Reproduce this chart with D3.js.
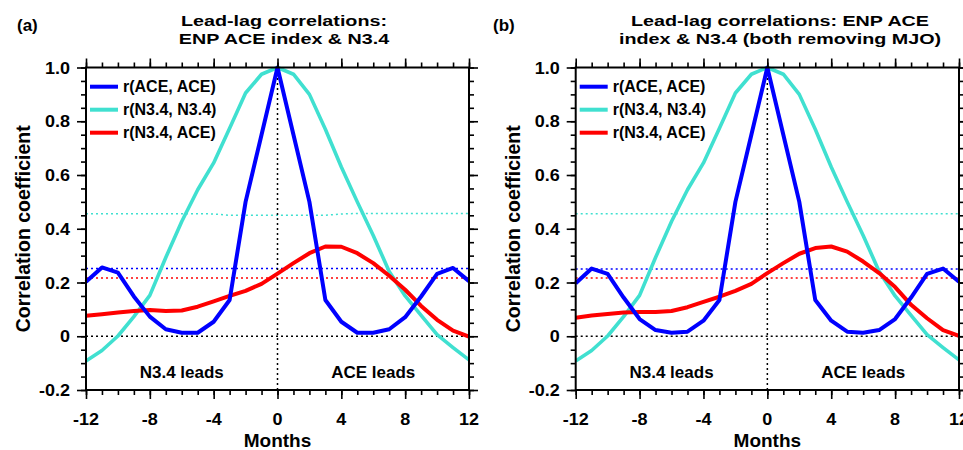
<!DOCTYPE html>
<html>
<head>
<meta charset="utf-8">
<script src="https://cdn.jsdelivr.net/npm/d3@7"></script>
<style>
  html, body { margin: 0; padding: 0; background: #fff; }
  svg { display: block; }
  text { font-family: "Liberation Sans", Arial, Helvetica, sans-serif; font-weight: bold; fill: #000; }
</style>
</head>
<body>
<svg id="chart" width="963" height="450"></svg>
<script>
// ---------------- DATA ----------------
const months = [-12,-11,-10,-9,-8,-7,-6,-5,-4,-3,-2,-1,0,1,2,3,4,5,6,7,8,9,10,11,12];
const xTickValues = [-12,-8,-4,0,4,8,12];
const xTickLabels = ["-12","-8","-4","0","4","8","12"];
const yTickValues = [-0.2,0,0.2,0.4,0.6,0.8,1.0];
const yTickLabels = ["-0.2","0","0.2","0.4","0.6","0.8","1.0"];
const legendLabels = ["r(ACE, ACE)","r(N3.4, N3.4)","r(N3.4, ACE)"];
const panelLabels = ["(a)","(b)"];
const titleA = ["Lead-lag correlations:","ENP ACE index & N3.4"];
const titleB = ["Lead-lag correlations: ENP ACE","index & N3.4 (both removing MJO)"];
const xAxisTitle = "Months";
const yAxisTitle = "Correlation coefficient";
const regionLabels = ["N3.4 leads","ACE leads"];
const regionMonths = [-6, 6];

// Panel (a)
const aceAceA = [0.203,0.256,0.237,0.148,0.073,0.026,0.013,0.013,0.054,0.135,0.50,0.75,1.0,0.75,0.50,0.135,0.054,0.013,0.013,0.026,0.071,0.148,0.232,0.254,0.205];
const n34n34A = [-0.092,-0.053,0.001,0.073,0.152,0.293,0.427,0.545,0.645,0.774,0.905,0.975,1.0,0.975,0.90,0.77,0.63,0.50,0.375,0.241,0.150,0.078,0.006,-0.042,-0.088];
const n34AceA = [0.076,0.082,0.088,0.094,0.098,0.094,0.096,0.110,0.130,0.150,0.169,0.195,0.233,0.272,0.309,0.334,0.333,0.309,0.272,0.225,0.173,0.113,0.061,0.021,-0.001];
const sigAceA = 0.252;
const sigN34A = [0.456,0.456,0.456,0.456,0.456,0.456,0.456,0.456,0.455,0.450,0.450,0.450,0.450,0.450,0.450,0.450,0.455,0.457,0.457,0.457,0.457,0.457,0.457,0.457,0.457];
const sigN34AceA = 0.217;

// Panel (b)
const aceAceB = [0.197,0.252,0.232,0.144,0.064,0.023,0.013,0.017,0.058,0.135,0.50,0.75,1.0,0.75,0.50,0.135,0.058,0.017,0.013,0.023,0.064,0.144,0.232,0.252,0.203];
const n34n34B = [-0.092,-0.053,0.001,0.073,0.152,0.293,0.427,0.545,0.645,0.774,0.905,0.975,1.0,0.975,0.90,0.77,0.63,0.50,0.375,0.241,0.150,0.078,0.006,-0.042,-0.088];
const n34AceB = [0.069,0.077,0.083,0.088,0.090,0.090,0.094,0.108,0.128,0.147,0.169,0.195,0.235,0.272,0.307,0.328,0.334,0.315,0.278,0.235,0.183,0.117,0.067,0.023,0.001];
const sigAceB = 0.250;
const sigN34B = [0.456,0.456,0.456,0.456,0.456,0.456,0.456,0.456,0.456,0.456,0.456,0.456,0.456,0.456,0.456,0.456,0.456,0.456,0.456,0.456,0.456,0.456,0.456,0.456,0.456];
const sigN34AceB = 0.217;

// ---------------- STYLE ----------------
const colors = { ace: "#0000ff", n34: "#40e0d0", cross: "#ff0000" };

const svg = d3.select("#chart");

function addText(sel, x, y, str, o) {
  let t = `translate(${x},${y})`;
  if (o.rot) t += ` rotate(${o.rot})`;
  if (o.sx) t += ` scale(${o.sx},1)`;
  return sel.append("text")
    .attr("transform", t)
    .attr("text-anchor", o.anchor || "middle")
    .attr("font-size", o.size)
    .attr("dy", o.dy || null)
    .text(str);
}

function drawPanel(cfg) {
  const x = d3.scaleLinear().domain([-12, 12]).range([cfg.left, cfg.right]);
  const y = d3.scaleLinear().domain([-0.2, 1.0]).range([390, 67.5]);
  const g = svg.append("g");
  const line = d3.line().x((d, i) => x(months[i])).y(d => y(d));

  // significance dotted lines
  const dotted = (vals, color) => {
    const arr = Array.isArray(vals) ? vals : months.map(() => vals);
    g.append("path").datum(arr).attr("d", line)
      .attr("fill", "none").attr("stroke", color)
      .attr("stroke-width", 1.5).attr("stroke-dasharray", "2,3");
  };
  dotted(cfg.sigN34, colors.n34);
  dotted(cfg.sigAce, colors.ace);
  dotted(cfg.sigCross, colors.cross);

  // zero reference lines
  g.append("line").attr("x1", x(-12)).attr("x2", x(12)).attr("y1", y(0)).attr("y2", y(0))
    .attr("stroke", "#000").attr("stroke-width", 1.5).attr("stroke-dasharray", "2,3");
  g.append("line").attr("x1", x(0)).attr("x2", x(0)).attr("y1", y(-0.2)).attr("y2", y(1.0))
    .attr("stroke", "#000").attr("stroke-width", 1.5).attr("stroke-dasharray", "2,3");

  // curves
  const curve = (vals, color, w) => g.append("path").datum(vals).attr("d", line)
    .attr("fill", "none").attr("stroke", color).attr("stroke-width", w)
    .attr("stroke-linejoin", "round").attr("stroke-linecap", "butt");
  curve(cfg.n34n34, colors.n34, 3.6);
  curve(cfg.n34Ace, colors.cross, 4);
  curve(cfg.aceAce, colors.ace, 4);

  // axes (ticks outward)
  const minorX = d3.range(-12, 13, 1);
  const minorY = d3.range(-4, 21).map(i => +(i * 0.05).toFixed(2));
  const styleAxis = sel => {
    sel.select(".domain").remove();
    sel.selectAll(".tick line").attr("stroke", "#000").attr("stroke-width", 1.6);
    sel.selectAll(".tick text").remove();
  };
  g.append("g").attr("transform", `translate(0,${y(-0.2)})`)
    .call(d3.axisBottom(x).tickValues(minorX).tickSize(5).tickFormat("")).call(styleAxis);
  g.append("g").attr("transform", `translate(0,${y(-0.2)})`)
    .call(d3.axisBottom(x).tickValues(xTickValues).tickSize(9).tickFormat("")).call(styleAxis);
  g.append("g").attr("transform", `translate(0,${y(1.0)})`)
    .call(d3.axisTop(x).tickValues(minorX).tickSize(5).tickFormat("")).call(styleAxis);
  g.append("g").attr("transform", `translate(0,${y(1.0)})`)
    .call(d3.axisTop(x).tickValues(xTickValues).tickSize(9).tickFormat("")).call(styleAxis);
  g.append("g").attr("transform", `translate(${x(-12)},0)`)
    .call(d3.axisLeft(y).tickValues(minorY).tickSize(5).tickFormat("")).call(styleAxis);
  g.append("g").attr("transform", `translate(${x(-12)},0)`)
    .call(d3.axisLeft(y).tickValues(yTickValues).tickSize(9).tickFormat("")).call(styleAxis);
  g.append("g").attr("transform", `translate(${x(12)},0)`)
    .call(d3.axisRight(y).tickValues(minorY).tickSize(5).tickFormat("")).call(styleAxis);
  g.append("g").attr("transform", `translate(${x(12)},0)`)
    .call(d3.axisRight(y).tickValues(yTickValues).tickSize(9).tickFormat("")).call(styleAxis);

  // frame
  g.append("rect").attr("x", x(-12)).attr("y", y(1.0))
    .attr("width", x(12) - x(-12)).attr("height", y(-0.2) - y(1.0))
    .attr("fill", "none").attr("stroke", "#000").attr("stroke-width", 2);

  // tick labels
  xTickValues.forEach((v, i) => addText(g, x(v), y(-0.2) + 35, xTickLabels[i], { size: 17, sx: 1.06 }));
  yTickValues.forEach((v, i) => addText(g, x(-12) - 16, y(v), yTickLabels[i], { size: 17, sx: 1.06, anchor: "end", dy: "0.36em" }));

  // axis titles
  addText(g, (x(-12) + x(12)) / 2, 447, xAxisTitle, { size: 19 });
  addText(g, x(-12) - 56, (y(1.0) + y(-0.2)) / 2, yAxisTitle, { size: 19.5, rot: -90 });

  // region labels
  regionMonths.forEach((m, i) => addText(g, x(m), 378, regionLabels[i], { size: 17 }));

  // legend
  const legColors = [colors.ace, colors.n34, colors.cross];
  legendLabels.forEach((lab, i) => {
    const ly = 86.7 + i * 23;
    g.append("line").attr("x1", x(-12) + 4).attr("x2", x(-12) + 32).attr("y1", ly).attr("y2", ly)
      .attr("stroke", legColors[i]).attr("stroke-width", 4);
    addText(g, x(-12) + 37, ly, lab, { size: 16, anchor: "start", dy: "0.36em" });
  });

  // title (two lines) & panel label
  cfg.title.forEach((t, i) => addText(g, cfg.titleX, 26.3 + i * 17.2, t, { size: 15.3, sx: 1.29 }));
  addText(g, cfg.labelX, 31, cfg.panelLabel, { size: 17, anchor: "start" });
}

drawPanel({ left: 86, right: 469, titleX: 284, labelX: 17, title: titleA, panelLabel: panelLabels[0],
  aceAce: aceAceA, n34n34: n34n34A, n34Ace: n34AceA, sigAce: sigAceA, sigN34: sigN34A, sigCross: sigN34AceA });
drawPanel({ left: 575.7, right: 959, titleX: 780, labelX: 493, title: titleB, panelLabel: panelLabels[1],
  aceAce: aceAceB, n34n34: n34n34B, n34Ace: n34AceB, sigAce: sigAceB, sigN34: sigN34B, sigCross: sigN34AceB });
</script>
</body>
</html>
